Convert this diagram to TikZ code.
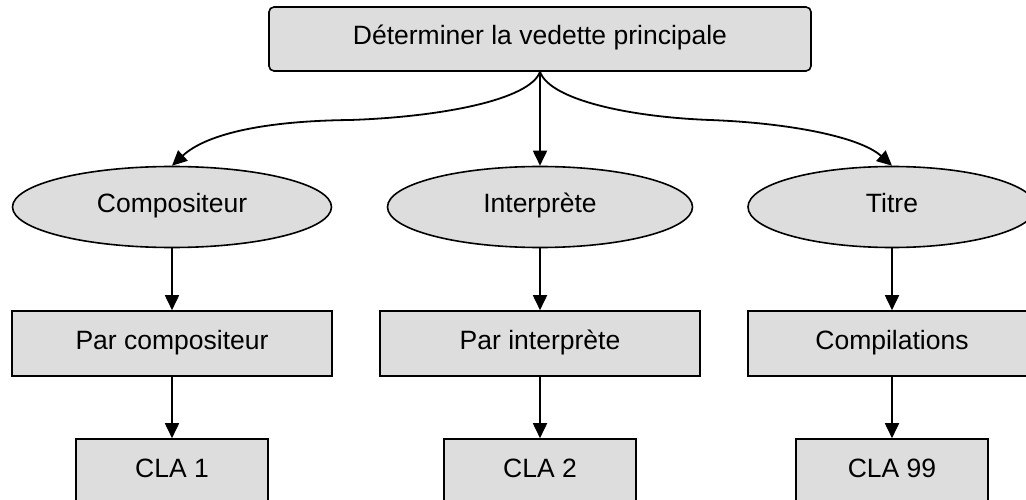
\documentclass[tikz,border=0pt]{standalone}
\usepackage{fontspec}
\setmainfont{Liberation Sans}
\usetikzlibrary{shapes.geometric,arrows.meta}
\definecolor{boxgrey}{RGB}{221,221,221}
\tikzset{
  every node/.style={font=\fontsize{26.5}{30}\selectfont, inner sep=0pt, text height=19pt, text depth=8pt},
  rbox/.style={draw, line width=1.6pt, fill=boxgrey, rectangle, anchor=center},
  ebox/.style={draw, line width=1.6pt, fill=boxgrey, ellipse, anchor=center},
  arr/.style={line width=1.8pt, -{Triangle[length=15pt,width=14pt]}}
}
\begin{document}
\begin{tikzpicture}[x=1pt,y=-1pt]
\useasboundingbox (0,0) rectangle (1026,500);
\clip (0,0) rectangle (1026,500);
\node[rbox, rounded corners=5pt, minimum width=542pt, minimum height=64pt] (top) at (540,39) {Déterminer la vedette principale};
\node[ebox, minimum width=319pt, minimum height=81pt] (e1) at (172,207) {Compositeur};
\node[ebox, minimum width=305pt, minimum height=81pt] (e2) at (540,207) {Interprète};
\node[ebox, minimum width=288pt, minimum height=81pt] (e3) at (892,207) {Titre};
\node[rbox, minimum width=320pt, minimum height=65pt] (b1) at (172,343.5) {Par compositeur};
\node[rbox, minimum width=320pt, minimum height=65pt] (b2) at (540,343.5) {Par interprète};
\node[rbox, minimum width=288pt, minimum height=65pt] (b3) at (892,343.5) {Compilations};
\node[rbox, minimum width=192pt, minimum height=65pt] (c1) at (172,471.5) {CLA 1};
\node[rbox, minimum width=192pt, minimum height=65pt] (c2) at (540,471.5) {CLA 2};
\node[rbox, minimum width=192pt, minimum height=65pt] (c3) at (892,471.5) {CLA 99};
\coordinate (mL) at (350,120);
\coordinate (mR) at (710,120);
\draw[arr] (top.south) .. controls (530,100) and (440,117) .. (mL) .. controls (260,121) and (205,135) .. (e1.north);
\draw[arr] (top.south) -- (e2.north);
\draw[arr] (top.south) .. controls (550,100) and (630,117) .. (mR) .. controls (790,123) and (860,137) .. (e3.north);
\draw[arr] (e1.south) -- (b1.north);
\draw[arr] (e2.south) -- (b2.north);
\draw[arr] (e3.south) -- (b3.north);
\draw[arr] (b1.south) -- (c1.north);
\draw[arr] (b2.south) -- (c2.north);
\draw[arr] (b3.south) -- (c3.north);
\end{tikzpicture}
\end{document}
